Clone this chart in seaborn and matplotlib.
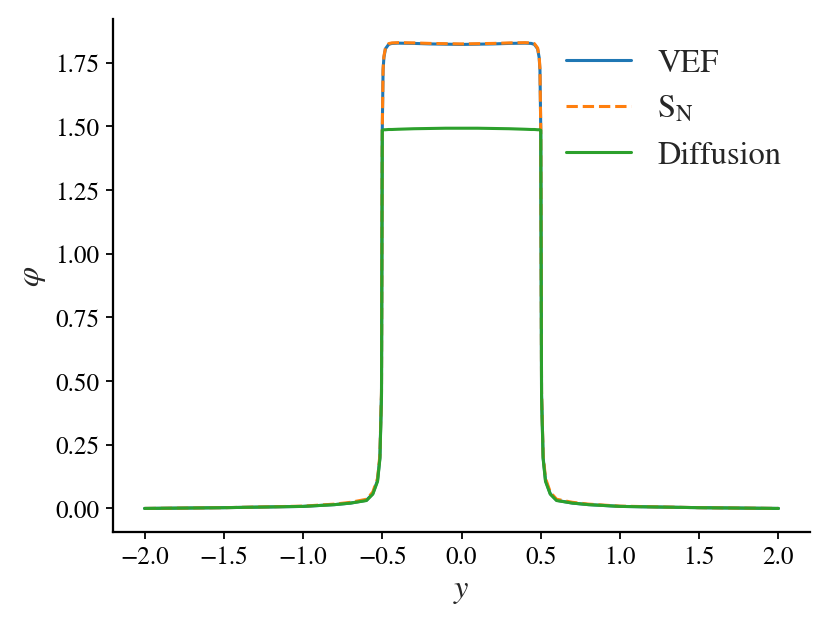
import matplotlib
matplotlib.use("Agg")
import matplotlib.pyplot as plt
import seaborn as sns
import pandas as pd

# posisi y dan nilai fluks skalar phi
y_pos = [-2.0, -1.5, -1.0, -0.8, -0.7, -0.6, -0.56, -0.53, -0.515, -0.505,
         -0.5, -0.495, -0.49, -0.48, -0.46, -0.44, -0.4, -0.3, -0.2, -0.1,
         0.0, 0.1, 0.2, 0.3, 0.4, 0.44, 0.46, 0.48, 0.49, 0.495,
         0.5, 0.505, 0.515, 0.53, 0.56, 0.6, 0.7, 0.8, 1.0, 1.5, 2.0]

phi_vef = [0.000, 0.003, 0.008, 0.015, 0.021, 0.032, 0.058, 0.110, 0.200, 0.450,
           1.490, 1.720, 1.770, 1.805, 1.822, 1.826, 1.827, 1.826, 1.824, 1.823,
           1.822, 1.823, 1.824, 1.826, 1.827, 1.826, 1.822, 1.805, 1.770, 1.720,
           1.490, 0.450, 0.200, 0.110, 0.058, 0.032, 0.021, 0.015, 0.008, 0.003, 0.000]

phi_sn = [0.000, 0.003, 0.009, 0.017, 0.024, 0.036, 0.064, 0.118, 0.210, 0.460,
          1.490, 1.725, 1.775, 1.808, 1.825, 1.828, 1.829, 1.828, 1.826, 1.825,
          1.824, 1.825, 1.826, 1.828, 1.829, 1.828, 1.825, 1.808, 1.775, 1.725,
          1.490, 0.460, 0.210, 0.118, 0.064, 0.036, 0.024, 0.017, 0.009, 0.003, 0.000]

phi_diff = [0.000, 0.003, 0.008, 0.015, 0.021, 0.031, 0.056, 0.106, 0.195, 0.440,
            1.485, 1.486, 1.487, 1.487, 1.488, 1.488, 1.489, 1.491, 1.492, 1.493,
            1.493, 1.493, 1.492, 1.491, 1.489, 1.488, 1.488, 1.487, 1.487, 1.486,
            1.485, 0.440, 0.195, 0.106, 0.056, 0.031, 0.021, 0.015, 0.008, 0.003, 0.000]

sns.set_theme(style="ticks")
plt.rcParams["font.family"] = ["STIXGeneral", "DejaVu Serif"]
plt.rcParams["mathtext.fontset"] = "stix"

fig, ax = plt.subplots(figsize=(6.4, 4.8), dpi=129.7)
fig.subplots_adjust(left=0.136, right=0.976, top=0.968, bottom=0.145)

sns.lineplot(x=y_pos, y=phi_vef, ax=ax, color="#1f77b4", linewidth=1.7, label="VEF")
sns.lineplot(x=y_pos, y=phi_sn, ax=ax, color="#ff7f0e", linewidth=1.7,
             linestyle="--", label=r"S$_{\mathrm{N}}$")
sns.lineplot(x=y_pos, y=phi_diff, ax=ax, color="#2ca02c", linewidth=1.7, label="Diffusion")

ax.set_xlabel(r"$y$", fontsize=18)
ax.set_ylabel(r"$\varphi$", fontsize=18)
ax.set_xticks([-2.0, -1.5, -1.0, -0.5, 0.0, 0.5, 1.0, 1.5, 2.0])
ax.set_yticks([0.0, 0.25, 0.5, 0.75, 1.0, 1.25, 1.5, 1.75])
ax.set_yticklabels(["0.00", "0.25", "0.50", "0.75", "1.00", "1.25", "1.50", "1.75"])
ax.tick_params(labelsize=14, length=4, width=1, color="black", labelcolor="black")
for s in ax.spines.values():
    s.set_color("black")
sns.despine(ax=ax)

ax.legend(loc="upper right", frameon=False, fontsize=18, borderaxespad=0.5)

fig.savefig("out.png", dpi=129.7)
